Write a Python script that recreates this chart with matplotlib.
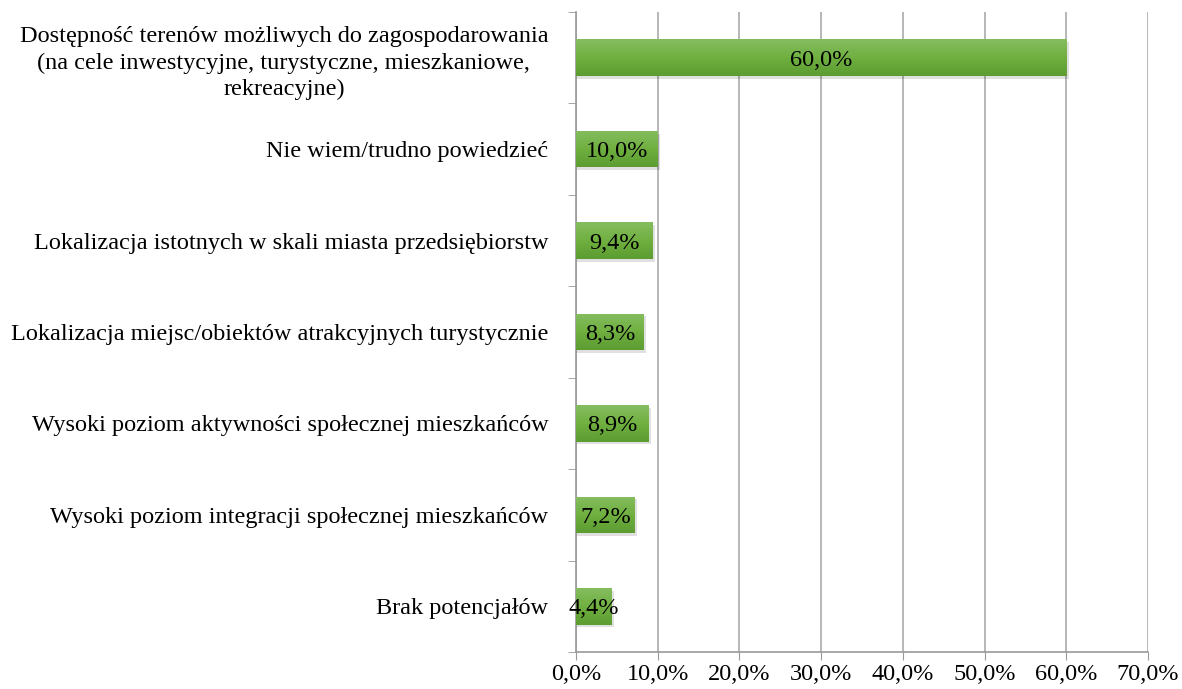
import numpy as np
import matplotlib.pyplot as plt
from matplotlib.colors import LinearSegmentedColormap

categories = [
    "Dostępność terenów możliwych do zagospodarowania\n(na cele inwestycyjne, turystyczne, mieszkaniowe,\nrekreacyjne)",
    "Nie wiem/trudno powiedzieć",
    "Lokalizacja istotnych w skali miasta przedsiębiorstw",
    "Lokalizacja miejsc/obiektów atrakcyjnych turystycznie",
    "Wysoki poziom aktywności społecznej mieszkańców",
    "Wysoki poziom integracji społecznej mieszkańców",
    "Brak potencjałów",
]
values = [60.0, 10.0, 9.4, 8.3, 8.9, 7.2, 4.4]
xticks = [0, 10, 20, 30, 40, 50, 60, 70]

plt.rcParams['font.family'] = ['Liberation Serif', 'DejaVu Serif']
fs = 17.5

fig = plt.figure(figsize=(11.82, 6.89), dpi=100)
ax = fig.add_axes([576 / 1182, 1 - 652 / 689, (1148 - 576) / 1182, (652 - 12) / 689])

n = len(categories)
ypos = np.arange(n)[::-1]
h = 0.4
cmap = LinearSegmentedColormap.from_list('g', ['#5c9c31', '#70b040', '#84bd60'])
grad = np.linspace(0, 1, 100).reshape(-1, 1)

for y, v in zip(ypos, values):
    # soft shadow under each bar
    ax.barh(y - 0.03, v + 0.3, height=h, left=0.0, color='#000000', alpha=0.12,
            zorder=2, linewidth=0)
    bars = ax.barh(y, v, height=h, color='#70ad47', zorder=3, linewidth=0)
    im = ax.imshow(grad, cmap=cmap, aspect='auto', origin='lower',
                   extent=[0, v, y - h / 2, y + h / 2], zorder=4)
    im.set_clip_path(bars[0])
    ax.text(v / 2, y, f"{v:.1f}%".replace('.', ','), ha='center', va='center_baseline',
            fontsize=fs, color='black', zorder=5)

ax.set_xlim(0, 70)
ax.set_ylim(-0.5, n - 0.5)
ax.set_xticks(xticks)
ax.set_xticklabels([f"{t:.1f}%".replace('.', ',') for t in xticks], fontsize=fs)
ax.set_yticks(ypos)
ax.set_yticklabels(categories, fontsize=fs, multialignment='center', linespacing=1.35)
ax.set_yticks(np.arange(-0.5, n, 1), minor=True)
ax.tick_params(axis='y', which='major', length=0, pad=20)
ax.tick_params(axis='y', which='minor', length=6, color='#999999', direction='out')
ax.tick_params(axis='x', length=6, color='#999999', pad=3)
ax.grid(axis='x', color='#aaaaaa', linewidth=1.2, zorder=0)
ax.set_axisbelow(True)
for s in ['top', 'right']:
    ax.spines[s].set_visible(False)
for s in ['left', 'bottom']:
    ax.spines[s].set_color('#999999')
    ax.spines[s].set_linewidth(1.2)

fig.savefig('out.png', dpi=100)
